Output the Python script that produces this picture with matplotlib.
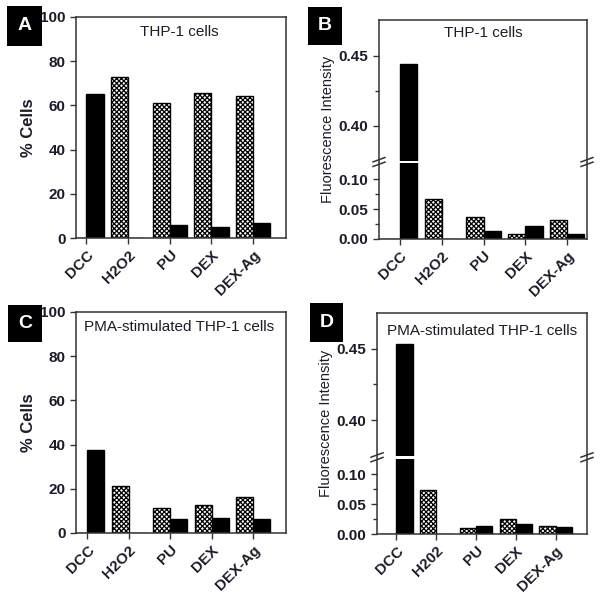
"""
Four-panel bar chart: % cells and fluorescence intensity for THP-1 cells
(plain and PMA-stimulated), hatched vs. solid bars, broken y-axis on B and D
"""
import numpy as np
import matplotlib
matplotlib.use('Agg')
import matplotlib.pyplot as plt
from matplotlib.patches import Rectangle

plt.rcParams['font.family'] = ['Liberation Sans', 'DejaVu Sans']
plt.rcParams['hatch.linewidth'] = 0.9

# Categories
cats_top = ['DCC', 'H2O2', 'PU', 'DEX', 'DEX-Ag']
cats_d = ['DCC', 'H202', 'PU', 'DEX', 'DEX-Ag']

# Panel A: THP-1 cells, % cells
a_hatched = [0, 72.9, 61.3, 65.4, 64.3]
a_black = [65.3, 0, 5.9, 5.2, 6.9]

# Panel B: THP-1 cells, fluorescence intensity
b_hatched = [0, 0.0665, 0.037, 0.0084, 0.0324]
b_black = [0.444, 0, 0.0134, 0.0218, 0.0089]

# Panel C: PMA-stimulated THP-1 cells, % cells
c_hatched = [0, 21.3, 11.5, 12.7, 16.3]
c_black = [37.6, 0, 6.3, 6.9, 6.3]

# Panel D: PMA-stimulated THP-1 cells, fluorescence intensity
d_hatched = [0, 0.0743, 0.0095, 0.0246, 0.014]
d_black = [0.453, 0, 0.014, 0.016, 0.0117]

TXT = '#1c1c28'
W = 0.41

fig = plt.figure(figsize=(6.02, 5.94), dpi=100)


def px_axes(left, top, right, bottom):
    return fig.add_axes([left / 602, 1 - bottom / 594,
                         (right - left) / 602, (bottom - top) / 594])


def draw_bars(ax, cats, hatched, black, xlim):
    x = np.arange(len(cats))
    ax.bar(x - W / 2, hatched, W, facecolor='white', edgecolor='black',
           hatch='xxxxxxx', linewidth=1.0)
    ax.bar(x + W / 2, black, W, facecolor='black', edgecolor='black',
           linewidth=1.0)
    ax.set_xlim(*xlim)
    ax.set_xticks(x)
    ax.set_xticklabels(cats, rotation=45, ha='right', rotation_mode='anchor',
                       fontsize=11, fontweight='bold', color=TXT)
    for s in ax.spines.values():
        s.set_linewidth(1.1)
        s.set_color('#333333')
    ax.tick_params(direction='out', length=4, width=1, color='#333333')
    ax.tick_params(axis='x', pad=3)


def pct_panel(ax, cats, hatched, black, title, xlim):
    draw_bars(ax, cats, hatched, black, xlim)
    ax.set_ylim(0, 100)
    ax.set_yticks(range(0, 101, 20))
    ax.set_yticklabels([str(v) for v in range(0, 101, 20)],
                       fontsize=11, fontweight='bold', color=TXT)
    ax.set_ylabel('% Cells', fontsize=12, fontweight='bold', color=TXT)
    ax.yaxis.set_label_coords(-0.19, 0.5)
    ax.text(0.49, 0.93, title, transform=ax.transAxes, ha='center',
            va='center', fontsize=11, color=TXT)


def broken_panel(ax, cats, hatched, black, title, xlim, b1, b2, top, f,
                 title_y):
    def fwd(y):
        y = np.asarray(y, dtype=float)
        lo = y / b1 * f
        hi = f + (y - b2) / (top - b2) * (1 - f)
        return np.where(y <= b1, lo, np.where(y >= b2, hi, f))

    def inv(u):
        u = np.asarray(u, dtype=float)
        lo = u / f * b1
        hi = b2 + (u - f) / (1 - f) * (top - b2)
        return np.where(u <= f, lo, hi)

    ax.set_yscale('function', functions=(fwd, inv))
    draw_bars(ax, cats, hatched, black, xlim)
    ax.set_ylim(0, top)
    yt = [0.0, 0.05, 0.10, 0.40, 0.45]
    ax.set_yticks(yt)
    ax.set_yticklabels(['%.2f' % v for v in yt], fontsize=11,
                       fontweight='bold', color=TXT)
    ax.set_yticks([0.025, 0.075, 0.425], minor=True)
    ax.tick_params(axis='y', which='minor', direction='out', length=3,
                   width=1, color='#333333')
    ax.set_ylabel('Fluorescence Intensity', fontsize=10.5, color=TXT)
    ax.yaxis.set_label_coords(-0.21, 0.5)
    ax.text(0.5, title_y, title, transform=ax.transAxes, ha='center',
            va='center', fontsize=11, color=TXT)

    # white gap through the bars at the break
    ax.add_patch(Rectangle((0, f - 0.006), 1, 0.012, transform=ax.transAxes,
                           facecolor='white', edgecolor='none', zorder=2))
    # break marks on both spines
    bbox = ax.get_window_extent()
    dx = 6 / bbox.width
    dy = 2.2 / bbox.height
    off = 2.3 / bbox.height
    for xs in (0, 1):
        for o in (-off, off):
            ax.plot([xs - dx, xs + dx], [f + o - dy, f + o + dy],
                    color='#333333', lw=1.1, transform=ax.transAxes,
                    clip_on=False, zorder=5)


ax_a = px_axes(76, 17, 286, 238)
pct_panel(ax_a, cats_top, a_hatched, a_black, 'THP-1 cells', (-0.25, 4.79))

ax_b = px_axes(379, 20, 587, 239)
broken_panel(ax_b, cats_top, b_hatched, b_black, 'THP-1 cells',
             (-0.5, 4.47), 0.1285, 0.374, 0.4755, 77 / 219, 0.94)

ax_c = px_axes(76, 312, 286, 533)
pct_panel(ax_c, cats_top, c_hatched, c_black, 'PMA-stimulated THP-1 cells',
          (-0.27, 4.79))

ax_d = px_axes(377, 313, 587, 534)
broken_panel(ax_d, cats_d, d_hatched, d_black, 'PMA-stimulated THP-1 cells',
             (-0.49, 4.79), 0.1285, 0.374, 0.475, 76.7 / 221, 0.92)

# panel letters in black boxes
for letter, (x0, y0, x1, y1) in zip('ABCD', [(7, 6, 42, 46), (308, 7, 342, 45),
                                              (8, 305, 42, 342),
                                              (310, 303, 343, 342)]):
    fig.patches.append(Rectangle((x0 / 602, 1 - y1 / 594),
                                 (x1 - x0) / 602, (y1 - y0) / 594,
                                 transform=fig.transFigure, facecolor='black',
                                 edgecolor='none'))
    fig.text((x0 + x1) / 2 / 602, 1 - (y0 + y1) / 2 / 594, letter,
             color='white', fontsize=14, fontweight='bold',
             ha='center', va='center')

fig.savefig('out.png', dpi=100)
print("Saved out.png")
